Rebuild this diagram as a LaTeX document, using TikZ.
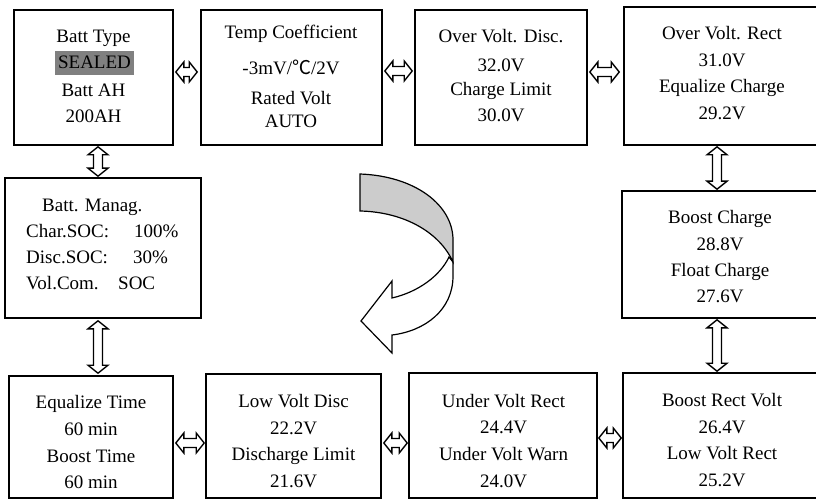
\documentclass[tikz,border=0pt]{standalone}
\usepackage{fontspec}
\setmainfont{Liberation Serif}
\newfontfamily\cjkfont{Noto Sans CJK SC}
\usetikzlibrary{calc}
\tikzset{
  box/.style={draw, line width=1.6bp, inner sep=0pt, fill=white},
  txt/.style={anchor=base, inner sep=0pt, font=\fontsize{19bp}{26bp}\selectfont},
  txtl/.style={txt, anchor=base west},
  blk/.style={draw, line width=1.4bp, fill=white, line join=miter},
  curv/.style={draw, line width=1.2bp, line join=miter},
}
\newcommand\arrh{8}
\newcommand\arrH{10}
\newcommand\arrs{4.5}
\newcommand\blkH[2]{\draw[blk] (#1) -- ($(#1)+(\arrh,\arrH)$) -- ($(#1)+(\arrh,\arrs)$) -- ($(#2)+(-\arrh,\arrs)$) -- ($(#2)+(-\arrh,\arrH)$) -- (#2) -- ($(#2)+(-\arrh,-\arrH)$) -- ($(#2)+(-\arrh,-\arrs)$) -- ($(#1)+(\arrh,-\arrs)$) -- ($(#1)+(\arrh,-\arrH)$) -- cycle;}
\newcommand\blkV[2]{\draw[blk] (#1) -- ($(#1)+(\arrH,\arrh)$) -- ($(#1)+(\arrs,\arrh)$) -- ($(#2)+(\arrs,-\arrh)$) -- ($(#2)+(\arrH,-\arrh)$) -- (#2) -- ($(#2)+(-\arrH,-\arrh)$) -- ($(#2)+(-\arrs,-\arrh)$) -- ($(#1)+(-\arrs,\arrh)$) -- ($(#1)+(-\arrH,\arrh)$) -- cycle;}
\begin{document}
\begin{tikzpicture}[x=1bp, y=-1bp]
\useasboundingbox (0,0) rectangle (816,500);
\clip (0,0) rectangle (816,500);
\fill[white] (0,0) rectangle (816,500);

% boxes
\node[box, minimum width=159bp, minimum height=135bp] (b1) at (93.5,77.5) {};
\node[box, minimum width=181bp, minimum height=135bp] (b2) at (291.5,77.5) {};
\node[box, minimum width=172bp, minimum height=135bp] (b3) at (501,77.5) {};
\node[box, minimum width=196bp, minimum height=138bp] (b4) at (722,76) {};
\node[box, minimum width=198bp, minimum height=127bp] (b5) at (721,254.5) {};
\node[box, minimum width=197bp, minimum height=125bp] (b6) at (721.5,435.5) {};
\node[box, minimum width=196bp, minimum height=140bp] (bm) at (103,248) {};
\node[box, minimum width=164bp, minimum height=122bp] (b7) at (91,437) {};
\node[box, minimum width=175bp, minimum height=124bp] (b8) at (293.5,436) {};
\node[box, minimum width=188bp, minimum height=125bp] (b9) at (503,435.5) {};

% texts
\node[txt] (t11) at (93.5,43) {Batt Type};
\node[txt, fill=gray, text height=18bp, text depth=6bp, inner xsep=3bp] (t12) at (94.5,69) {SEALED};
\node[txt] (t13) at (93.5,97) {Batt AH};
\node[txt] (t14) at (93.5,123) {200AH};

\node[txt] (t21) at (291,39) {Temp Coefficient};
\node[txt] (t22) at (291,75) {-3mV/{\cjkfont ℃}/2V};
\node[txt] (t23) at (291,105) {Rated Volt};
\node[txt] (t24) at (291,128) {AUTO};

\node[txt] (t31) at (501,43) {Over Volt. Disc.};
\node[txt] (t32) at (501,72) {32.0V};
\node[txt] (t33) at (501,96) {Charge Limit};
\node[txt] (t34) at (501,122) {30.0V};

\node[txt] (t41) at (722,40) {Over Volt. Rect};
\node[txt] (t42) at (722,67) {31.0V};
\node[txt] (t43) at (722,93) {Equalize Charge};
\node[txt] (t44) at (722,120) {29.2V};

\node[txt] (t51) at (720,224) {Boost Charge};
\node[txt] (t52) at (720,251) {28.8V};
\node[txt] (t53) at (720,277) {Float Charge};
\node[txt] (t54) at (720,303) {27.6V};

\node[txt] (t61) at (722,406) {Boost Rect Volt};
\node[txt] (t62) at (722,433) {26.4V};
\node[txt] (t63) at (722,459) {Low Volt Rect};
\node[txt] (t64) at (722,486) {25.2V};

\node[txt] (t71) at (91,408) {Equalize Time};
\node[txt] (t72) at (91,435) {60 min};
\node[txt] (t73) at (91,462) {Boost Time};
\node[txt] (t74) at (91,488) {60 min};

\node[txt] (t81) at (293.5,407) {Low Volt Disc};
\node[txt] (t82) at (293.5,434) {22.2V};
\node[txt] (t83) at (293.5,460) {Discharge Limit};
\node[txt] (t84) at (293.5,487) {21.6V};

\node[txt] (t91) at (503.5,407) {Under Volt Rect};
\node[txt] (t92) at (503.5,433) {24.4V};
\node[txt] (t93) at (503.5,460) {Under Volt Warn};
\node[txt] (t94) at (503.5,487) {24.0V};

\node[txtl] (tm1) at (42,212) {Batt. Manag.};
\node[txtl] (tm2) at (26,238) {Char.SOC:};
\node[txtl] (tm2v) at (134,238) {100\%};
\node[txtl] (tm3) at (26,264) {Disc.SOC:};
\node[txtl] (tm3v) at (133,264) {30\%};
\node[txtl] (tm4) at (26,290) {Vol.Com.};
\node[txtl] (tm4v) at (118,290) {SOC};

% connector end points
\coordinate (a12a) at ($(b1.east)+(2,-5.5)$);
\coordinate (a12b) at ($(b2.west)+(-3,-5.5)$);
\coordinate (a23a) at ($(b2.east)+(2,-6.5)$);
\coordinate (a23b) at ($(b3.west)+(-2,-6.5)$);
\coordinate (a34a) at ($(b3.east)+(2,-5.5)$);
\coordinate (a34b) at ($(b4.west)+(-4,-4)$);
\coordinate (a78a) at ($(b7.east)+(2,6)$);
\coordinate (a78b) at ($(b8.west)+(-1,7)$);
\coordinate (a89a) at ($(b8.east)+(2,7)$);
\coordinate (a89b) at ($(b9.west)+(-1,7.5)$);
\coordinate (a96a) at ($(b9.east)+(1,2.5)$);
\coordinate (a96b) at ($(b6.west)+(-1,2.5)$);
\coordinate (a1ma) at ($(b1.south)+(4.5,1)$);
\coordinate (a1mb) at ($(bm.north)+(-5,-1)$);
\coordinate (am7a) at ($(bm.south)+(-5,2)$);
\coordinate (am7b) at ($(b7.north)+(7,-2)$);
\coordinate (a45a) at ($(b4.south)+(-5,1)$);
\coordinate (a45b) at ($(b5.north)+(-4,-1)$);
\coordinate (a56a) at ($(b5.south)+(-4,1)$);
\coordinate (a56b) at ($(b6.north)+(-4.5,-1)$);

% block connectors
\blkH{a12a}{a12b}
\blkH{a23a}{a23b}
\blkH{a34a}{a34b}
\blkH{a78a}{a78b}
\blkH{a89a}{a89b}
\blkH{a96a}{a96b}
\blkV{a1ma}{a1mb}
\blkV{am7a}{am7b}
\blkV{a45a}{a45b}
\blkV{a56a}{a56b}

% curved arrow
\draw[curv, fill=white] (453,262) -- (453,276) .. controls (453,310) and (425,331) .. (392,335) -- (392,353) -- (361,321) -- (392,281) -- (392,298) .. controls (418,292) and (440,276) .. (449,257) -- cycle;
\draw[curv, fill=gray!40] (360,174) .. controls (415,176) and (453,205) .. (453,240) -- (453,262) .. controls (440,233) and (405,212) .. (360,211) -- cycle;
\end{tikzpicture}
\end{document}
